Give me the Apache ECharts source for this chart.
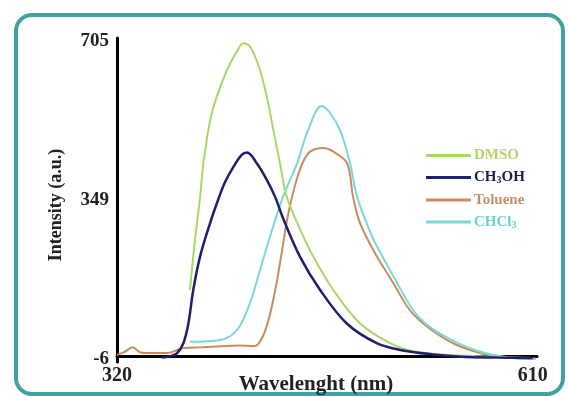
<!DOCTYPE html>
<html>
<head>
<meta charset="utf-8">
<script src="https://cdn.jsdelivr.net/npm/echarts@6/dist/echarts.min.js"></script>
<style>
  html, body { margin: 0; padding: 0; background: #fff; }
  #chart { width: 568px; height: 396px; }
</style>
</head>
<body>
<div id="chart"></div>
<script>
// tick labels
var xTicks = [320, 610];
var yTicks = [-6, 349, 705];

// DMSO
var dmsoW = [370.9, 374.4, 377.9, 379.1, 380.2, 381.9, 383.7, 386.1, 389.6, 393.8, 398.9, 403.5, 408.1, 412, 415.1, 419.8, 424.5, 429.1, 433.7, 438.4, 447.7, 457, 470.9, 489.6, 510.5, 526.6, 550, 580, 610];
var dmsoI = [149, 261, 354, 395, 432, 469, 506, 544, 581, 618, 655, 681, 700, 696, 680, 640, 581, 506, 432, 357, 285, 223, 149, 74, 30, 12, 4, 0, -3];

// CH3OH
var meohW = [351.2, 357, 361.7, 366.3, 369.8, 373.2, 377.9, 384.9, 390.5, 395.4, 401.2, 407, 410.7, 417.5, 424.5, 430.3, 436, 447.7, 461.7, 480.3, 501.2, 517.5, 540, 560, 585, 610];
var meohI = [-2, 1, 7, 30, 74, 149, 223, 298, 350, 390, 424, 451, 456, 432, 395, 357, 308, 223, 149, 74, 30, 15, 5, 0, -2, -3];

// Toluene
var tolW = [320, 325, 331, 336, 345, 355, 366, 380, 392, 405, 416.3, 421.2, 424.7, 428.2, 431.7, 435.2, 438.6, 442.1, 446.3, 449.8, 454.7, 463.8, 471, 480.5, 484.7, 489.6, 501.4, 508.4, 512.6, 526.6, 550.3, 573.3, 596.3, 612];
var tolI = [4, 10, 21, 10, 8, 8, 19, 21, 23, 25, 24, 42, 71, 115, 171, 238, 305, 357, 406, 435, 458, 466, 458, 432, 357, 298, 223, 187, 165, 95, 37, 8, -3, -5];

// CHCl3
var chclW = [370.9, 391.9, 403.7, 412.8, 419.8, 427.5, 435.8, 445.6, 453.3, 462.7, 468.5, 475.6, 482.6, 487.5, 498, 505, 511.7, 530.3, 553.6, 578, 601, 612];
var chclI = [33, 37, 59, 120, 194, 276, 357, 432, 506, 560, 545, 506, 432, 357, 268, 225, 186, 89, 37, 7, -4, -5];

function pairs(w, v) {
  return w.map(function(x, i) { return [x, v[i]]; });
}

var chart = echarts.init(document.getElementById('chart'));
var serif = '"Liberation Serif", "DejaVu Serif", serif';

function line(name, w, v, color, width, z) {
  return {
    name: name,
    type: 'line',
    data: pairs(w, v),
    smooth: 0.35,
    showSymbol: false,
    z: z,
    lineStyle: { color: color, width: width },
    itemStyle: { color: color }
  };
}

function txt(color, size) {
  return { color: color, fontFamily: serif, fontWeight: 'bold', fontSize: size, height: 15 };
}
function sub(color) {
  return { color: color, fontFamily: serif, fontWeight: 'bold', fontSize: 10, height: 15, verticalAlign: 'bottom', padding: [6, 0, 0, 0] };
}

var option = {
  backgroundColor: '#fff',
  animation: false,
  graphic: [{
    type: 'rect',
    shape: { x: 16, y: 15, width: 547, height: 379, r: 16 },
    style: { fill: 'none', stroke: '#3ea39c', lineWidth: 4 },
    z: 0
  }],
  grid: { left: 117, top: 38, right: 31, bottom: 34, outerBoundsMode: 'none' },
  legend: {
    orient: 'vertical',
    left: 421,
    top: 143,
    itemWidth: 45,
    itemHeight: 3,
    itemGap: 7,
    icon: 'rect',
    data: ['DMSO', 'CH3OH', 'Toluene', 'CHCl3'],
    formatter: function(name) {
      if (name === 'DMSO') return '{g|DMSO}';
      if (name === 'CH3OH') return '{n|CH}{ns|3}{n|OH}';
      if (name === 'Toluene') return '{o|Toluene}';
      return '{c|CHCl}{cs|3}';
    },
    textStyle: {
      padding: [0, 0, 0, -2],
      rich: {
        g: txt('#b3d46a', 15),
        n: txt('#1c1c5c', 15),
        ns: sub('#1c1c5c'),
        o: txt('#c4916a', 15),
        c: txt('#6ccfd0', 15),
        cs: sub('#6ccfd0')
      }
    }
  },
  xAxis: {
    type: 'value',
    min: 320,
    max: 613,
    name: 'Wavelenght (nm)',
    nameLocation: 'middle',
    nameGap: 12,
    nameMoveOverlap: false,
    nameTextStyle: { fontFamily: serif, fontWeight: 'bold', fontSize: 21, color: '#222', padding: [0, 22, 0, 0], verticalAlign: 'top' },
    axisLine: { lineStyle: { color: '#000', width: 3 } },
    axisTick: { show: false },
    splitLine: { show: false },
    axisLabel: { customValues: xTicks, fontFamily: serif, fontWeight: 'bold', fontSize: 20, color: '#222', margin: 4 }
  },
  yAxis: {
    type: 'value',
    min: -12,
    max: 712,
    name: 'Intensity (a.u.)',
    nameLocation: 'middle',
    nameRotate: 90,
    nameGap: 52,
    nameMoveOverlap: false,
    nameTextStyle: { fontFamily: serif, fontWeight: 'bold', fontSize: 18, color: '#222', padding: [0, 10, 0, 0] },
    axisLine: { show: true, lineStyle: { color: '#000', width: 3 } },
    axisTick: { show: false },
    splitLine: { show: false },
    axisLabel: { customValues: yTicks, fontFamily: serif, fontWeight: 'bold', fontSize: 19, color: '#222', margin: 8 }
  },
  series: [
    line('Toluene', tolW, tolI, '#c98b5e', 2, 2),
    line('CHCl3', chclW, chclI, '#7ad8d8', 2, 3),
    line('DMSO', dmsoW, dmsoI, '#a8d866', 2, 4),
    line('CH3OH', meohW, meohI, '#1f1f6e', 2.5, 5)
  ]
};

chart.setOption(option);
</script>
</body>
</html>
